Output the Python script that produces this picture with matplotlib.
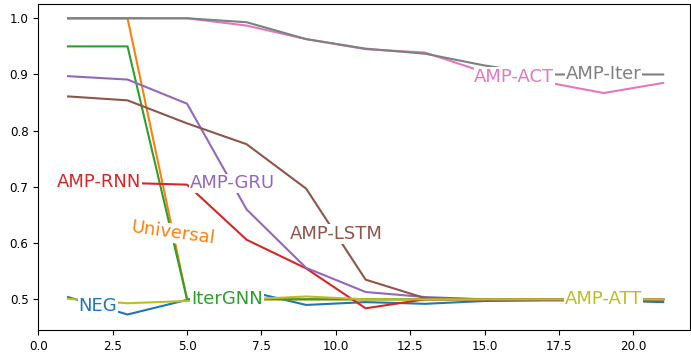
import numpy as np
import matplotlib
matplotlib.use("Agg")
from matplotlib import pyplot as plt

# Shared x positions (iterations)
steps = [1, 3, 5, 7, 9, 11, 13, 15, 17, 19, 21]

# Series values
neg = [0.504, 0.473, 0.499, 0.515, 0.490, 0.495, 0.492, 0.497, 0.498, 0.498, 0.495]
universal = [1.0, 1.0, 0.500, 0.500, 0.500, 0.500, 0.500, 0.500, 0.500, 0.500, 0.500]
itergnn = [0.95, 0.95, 0.500, 0.500, 0.500, 0.500, 0.500, 0.500, 0.500, 0.500, 0.500]
amp_rnn = [0.710, 0.707, 0.704, 0.606, 0.555, 0.484, 0.500, 0.500, 0.500, 0.500, 0.500]
amp_gru = [0.897, 0.891, 0.848, 0.660, 0.556, 0.513, 0.504, 0.500, 0.500, 0.500, 0.500]
amp_lstm = [0.861, 0.854, 0.813, 0.776, 0.697, 0.535, 0.502, 0.500, 0.500, 0.500, 0.500]
amp_act = [1.0, 1.0, 1.0, 0.987, 0.963, 0.945, 0.939, 0.904, 0.887, 0.867, 0.885]
amp_iter = [1.0, 1.0, 1.0, 0.993, 0.963, 0.946, 0.937, 0.916, 0.900, 0.900, 0.900]
amp_att = [0.501, 0.493, 0.497, 0.500, 0.505, 0.500, 0.500, 0.500, 0.500, 0.500, 0.500]

names = ["NEG", "Universal", "IterGNN", "AMP-RNN", "AMP-GRU",
         "AMP-LSTM", "AMP-ACT", "AMP-Iter", "AMP-ATT"]
series = [neg, universal, itergnn, amp_rnn, amp_gru,
          amp_lstm, amp_act, amp_iter, amp_att]

# Inline label x positions and rotations
label_x = [2.0, 4.53, 6.34, 2.03, 6.51, 10.0, 16.0, 19.0, 19.0]
label_rot = [0, -8, 0, 0, 0, 0, 0, 0, 0]

fig = plt.figure(figsize=(6.91, 3.52), dpi=100)
ax = fig.add_axes([0.0554, 0.0625, 0.9431, 0.9261])

lines = []
for name, ys in zip(names, series):
    (ln,) = ax.plot(steps, ys, label=name, linewidth=1.5)
    lines.append(ln)

ax.set_xlim(0, 21.9)
ax.set_ylim(0.4454, 1.0254)
ax.tick_params(labelsize=8.6)

# Inline labels, like labellines: text sitting on its line with a white box
for ln, name, ys, lx, rot in zip(lines, names, series, label_x, label_rot):
    ly = np.interp(lx, steps, ys)
    ax.text(lx, ly, name, color=ln.get_color(), fontsize=13,
            ha="center", va="center", rotation=rot, zorder=5,
            bbox=dict(facecolor="white", edgecolor="none", pad=0.5))

fig.savefig("out.png", dpi=100)
